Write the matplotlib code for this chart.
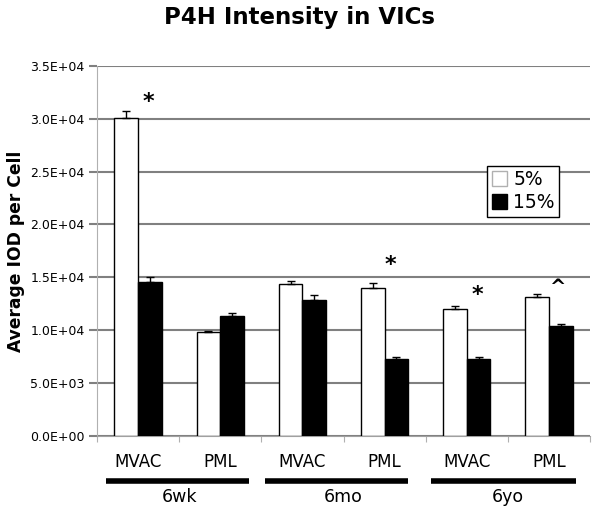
import numpy as np
import matplotlib
matplotlib.use("Agg")
import matplotlib.pyplot as plt
import matplotlib.transforms as mtransforms

# values
categories = ["MVAC", "PML", "MVAC", "PML", "MVAC", "PML"]
groups = ["6wk", "6mo", "6yo"]
low_vals = [30050, 9810, 14320, 14000, 12010, 13120]     # 5%
high_vals = [14570, 11350, 12840, 7310, 7310, 10380]     # 15%
low_err = [700, 150, 310, 440, 280, 280]
high_err = [500, 310, 440, 130, 120, 220]
# significance marks: category index, symbol, height
mark_cat = [0, 3, 4, 5]
mark_sym = ["*", "*", "*", "^"]
mark_y = [31600, 16200, 13300, 14000]
mark_dx = [0.12, 0.07, 0.13, 0.1]

plt.rcParams["font.family"] = ["DejaVu Sans"]

fig = plt.figure(figsize=(6.0, 5.14), dpi=100)
ax = fig.add_axes([0.162, 0.152, 0.821, 0.720])

x = np.arange(len(categories))
w = 0.29
ax.bar(x - w / 2, low_vals, w, color="white", edgecolor="black", linewidth=1.0,
       label="5%", zorder=3)
ax.bar(x + w / 2, high_vals, w, color="black", edgecolor="black", linewidth=1.0,
       label="15%", zorder=3)
ax.errorbar(x - w / 2, low_vals, yerr=[np.zeros(6), low_err], fmt="none",
            ecolor="black", elinewidth=1, capsize=3, capthick=1, zorder=4)
ax.errorbar(x + w / 2, high_vals, yerr=[np.zeros(6), high_err], fmt="none",
            ecolor="black", elinewidth=1, capsize=3, capthick=1, zorder=4)

for i, sym, yv, dx in zip(mark_cat, mark_sym, mark_y, mark_dx):
    ax.text(x[i] + dx, yv, sym, ha="center", va="center",
            fontsize=16 if sym == "*" else 14, fontweight="bold")

ax.set_xlim(-0.5, 5.5)
ax.set_ylim(0, 35000)
ax.set_yticks(np.arange(0, 35001, 5000))
ax.set_yticklabels(["%.1E" % v for v in np.arange(0, 35001, 5000)], fontsize=9)
ax.yaxis.grid(True, color="#808080", linewidth=1.5, zorder=0)
ax.tick_params(axis="y", length=6, width=1.5, color="#808080", pad=3)

ax.set_xticks(np.arange(-0.5, 6.0, 1.0))
ax.set_xticklabels([])
ax.tick_params(axis="x", length=4, width=0.8, color="#b0b0b0", direction="out")

trans = mtransforms.blended_transform_factory(ax.transData, ax.transAxes)
for i, c in enumerate(categories):
    ax.text(x[i], -0.071, c, transform=trans, ha="center", va="center",
            fontsize=12)

for sp in ["top", "right"]:
    ax.spines[sp].set_visible(False)
ax.spines["left"].set_color("#b0b0b0")
ax.spines["bottom"].set_color("#a0a0a0")

# group bars and labels under the axis
spans = [(-0.39, 1.35), (1.54, 3.29), (3.57, 5.33)]
for k, g in enumerate(groups):
    ax.plot(spans[k], [-0.122, -0.122], color="black", linewidth=4,
            transform=trans, clip_on=False, solid_capstyle="butt")
    ax.text(2 * k + 0.5, -0.164, g, transform=trans, ha="center", va="center",
            fontsize=12.5)

ax.set_ylabel("Average IOD per Cell", fontsize=12.3, fontweight="bold", labelpad=4)
fig.text(0.5, 0.966, "P4H Intensity in VICs", ha="center", va="center",
         fontsize=16.5, fontweight="bold")

leg = ax.legend(loc="upper left", bbox_to_anchor=(0.791, 0.730), fontsize=13.5,
                frameon=True, fancybox=False, edgecolor="black", framealpha=1,
                handlelength=0.85, handleheight=0.85, handletextpad=0.3,
                borderpad=0.25, labelspacing=0.2, borderaxespad=0)
leg.get_frame().set_linewidth(1.0)
leg.legend_handles[0].set_edgecolor("#b0b0b0")

fig.savefig("out.png", dpi=100)
